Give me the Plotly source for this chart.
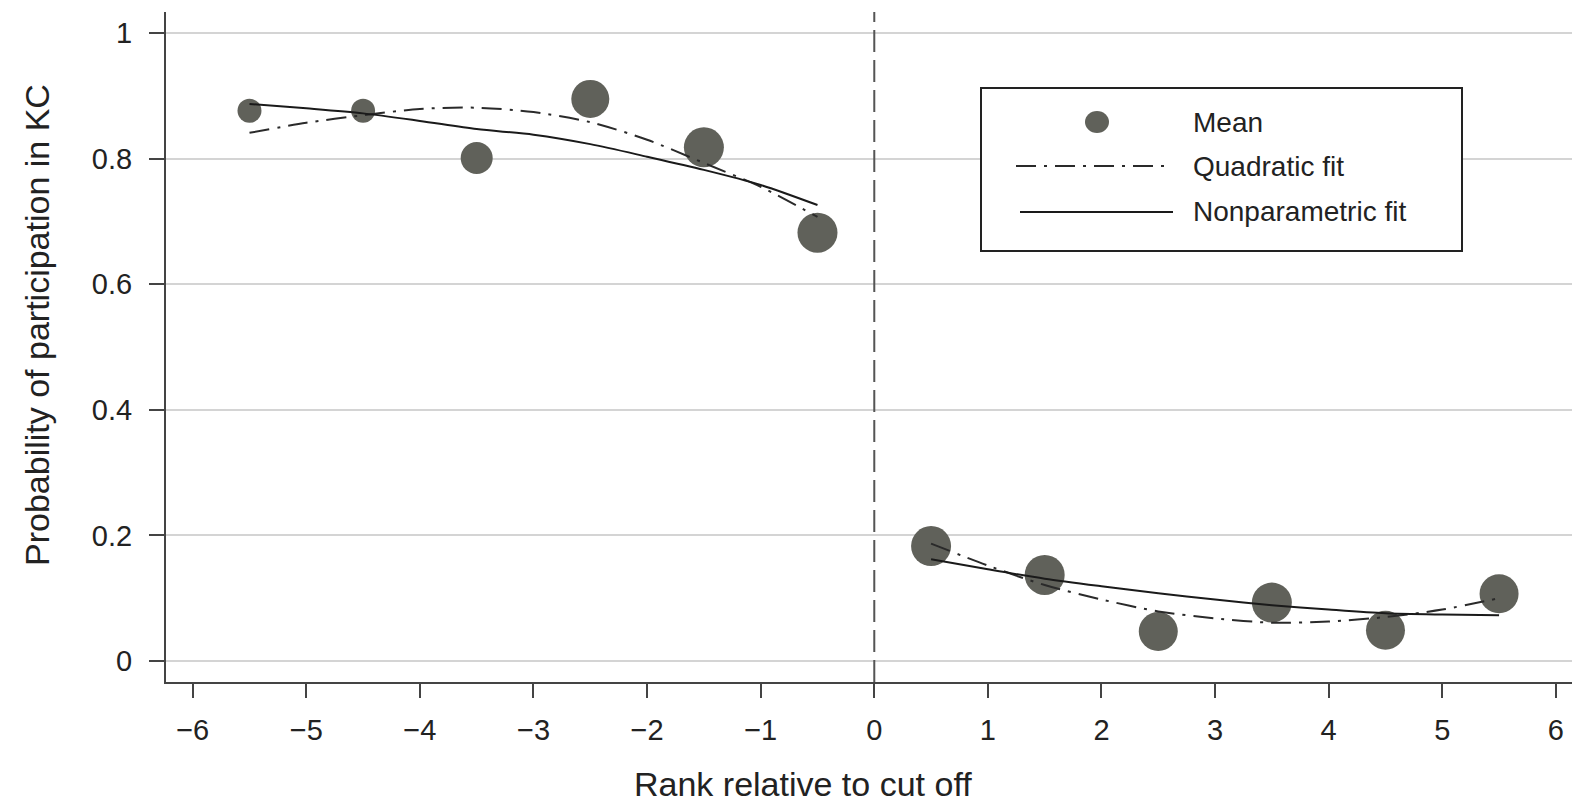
import plotly.graph_objects as go

# ---------------- data ----------------
rank_means = [-5.5, -4.5, -3.5, -2.5, -1.5, -0.5, 0.5, 1.5, 2.5, 3.5, 4.5, 5.5]
mean_values = [0.876, 0.876, 0.801, 0.895, 0.818, 0.682,
               0.183, 0.137, 0.047, 0.093, 0.049, 0.107]
marker_sizes = [24, 24, 32, 38, 40, 40, 40, 40, 39, 40, 39, 39]

rank_left = [-5.5, -5.0, -4.5, -4.0, -3.5, -3.0, -2.5, -2.0, -1.5, -1.0, -0.5]
quad_left = [0.841, 0.857, 0.869, 0.879, 0.881, 0.874, 0.858, 0.830, 0.793, 0.755, 0.707]
nonpar_left = [0.887, 0.880, 0.872, 0.860, 0.847, 0.838, 0.823, 0.803, 0.782, 0.758, 0.726]

rank_right = [0.5, 1.0, 1.5, 2.0, 2.5, 3.0, 3.5, 4.0, 4.5, 5.0, 5.5]
quad_right = [0.187, 0.152, 0.121, 0.098, 0.079, 0.068, 0.061, 0.063, 0.070, 0.082, 0.100]
nonpar_right = [0.162, 0.146, 0.131, 0.119, 0.108, 0.098, 0.089, 0.082, 0.076, 0.074, 0.073]

x_ticks = [-6, -5, -4, -3, -2, -1, 0, 1, 2, 3, 4, 5, 6]
x_ticktext = ["\u22126", "\u22125", "\u22124", "\u22123", "\u22122", "\u22121",
              "0", "1", "2", "3", "4", "5", "6"]
y_ticks = [0, 0.2, 0.4, 0.6, 0.8, 1.0]
y_ticktext = ["0", "0.2", "0.4", "0.6", "0.8", "1"]

legend_labels = ["Mean", "Quadratic fit", "Nonparametric fit"]
x_title = "Rank relative to cut off"
y_title = "Probability of participation in KC"

# ---------------- styling ----------------
W, H = 1572, 808
ML, MR, MT, MB = 166, 0, 12, 126
FONT = "Liberation Sans, Arial, Helvetica, sans-serif"
MARKER_COLOR = "rgb(96,97,90)"
AXIS_COLOR = "#444444"
TEXT_COLOR = "#222222"
DASHDOT = "20px,8px,3px,8px"

pw, ph = W - ML - MR, H - MT - MB


def px_x(p):
    return (p - ML) / pw


def px_y(p):
    return (H - MB - p) / ph


fig = go.Figure()

fig.add_trace(go.Scatter(
    x=rank_means, y=mean_values, mode="markers", name=legend_labels[0],
    marker=dict(color=MARKER_COLOR, size=marker_sizes, opacity=1, line=dict(width=0)),
    showlegend=False, cliponaxis=False))

for xs, ys in [(rank_left, quad_left), (rank_right, quad_right)]:
    fig.add_trace(go.Scatter(
        x=xs, y=ys, mode="lines", name=legend_labels[1],
        line=dict(color="#2a2a2a", width=2, dash=DASHDOT, shape="spline", smoothing=0.8),
        showlegend=False))

for xs, ys in [(rank_left, nonpar_left), (rank_right, nonpar_right)]:
    fig.add_trace(go.Scatter(
        x=xs, y=ys, mode="lines", name=legend_labels[2],
        line=dict(color="#1a1a1a", width=2, shape="spline", smoothing=0.8),
        showlegend=False))

shapes = [
    # cut-off line
    dict(type="line", xref="x", yref="paper", x0=0, x1=0, y0=0, y1=1,
         line=dict(color="#555555", width=2, dash="22px,8px"), layer="above"),
    # legend box
    dict(type="rect", xref="paper", yref="paper",
         x0=px_x(981), x1=px_x(1462), y0=px_y(251), y1=px_y(88),
         line=dict(color="#222222", width=2), fillcolor="white", layer="above"),
    dict(type="circle", xref="paper", yref="paper", xsizemode="pixel", ysizemode="pixel",
         xanchor=px_x(1097), yanchor=px_y(122), x0=-12, x1=12, y0=-11, y1=11,
         fillcolor=MARKER_COLOR, line=dict(width=0), layer="above"),
    dict(type="line", xref="paper", yref="paper", x0=px_x(1016), x1=px_x(1170),
         y0=px_y(166), y1=px_y(166), line=dict(color="#2a2a2a", width=2, dash=DASHDOT),
         layer="above"),
    dict(type="line", xref="paper", yref="paper", x0=px_x(1020), x1=px_x(1173),
         y0=px_y(212), y1=px_y(212), line=dict(color="#1a1a1a", width=2), layer="above"),
]

annotations = [
    dict(text=y_title, xref="paper", yref="paper", x=px_x(37), y=px_y(325),
         textangle=-90, showarrow=False, xanchor="center", yanchor="middle",
         font=dict(family=FONT, size=34, color=TEXT_COLOR)),
    dict(text=x_title, xref="paper", yref="paper", x=px_x(803), y=px_y(784),
         showarrow=False, xanchor="center", yanchor="middle", borderpad=0,
         font=dict(family=FONT, size=34, color=TEXT_COLOR)),
]
for lab, py in zip(legend_labels, [122, 166, 212]):
    annotations.append(dict(text=lab, xref="paper", yref="paper", x=px_x(1191), y=px_y(py),
                            showarrow=False, xanchor="left", yanchor="middle",
                            font=dict(family=FONT, size=28, color=TEXT_COLOR)))

fig.update_layout(
    width=W, height=H,
    margin=dict(l=ML, r=MR, t=MT, b=MB, pad=0),
    paper_bgcolor="white", plot_bgcolor="white",
    font=dict(family=FONT, color=TEXT_COLOR),
    shapes=shapes, annotations=annotations, showlegend=False,
)

fig.update_xaxes(
    range=[-6.235, 6.142], tickvals=x_ticks, ticktext=x_ticktext,
    showgrid=False, zeroline=False, showline=True, linecolor=AXIS_COLOR, linewidth=2,
    ticks="outside", ticklen=14, tickwidth=2, tickcolor=AXIS_COLOR,
    tickfont=dict(family=FONT, size=29, color=TEXT_COLOR), ticklabelstandoff=7)

fig.update_yaxes(
    range=[-0.0334, 1.0334], tickvals=y_ticks, ticktext=y_ticktext,
    showgrid=True, gridcolor="#d4d4d4", gridwidth=1.5, zeroline=False,
    showline=True, linecolor=AXIS_COLOR, linewidth=2,
    ticks="outside", ticklen=15, tickwidth=2, tickcolor=AXIS_COLOR,
    tickfont=dict(family=FONT, size=29, color=TEXT_COLOR), ticklabelstandoff=11)

fig.write_html("out.html")
